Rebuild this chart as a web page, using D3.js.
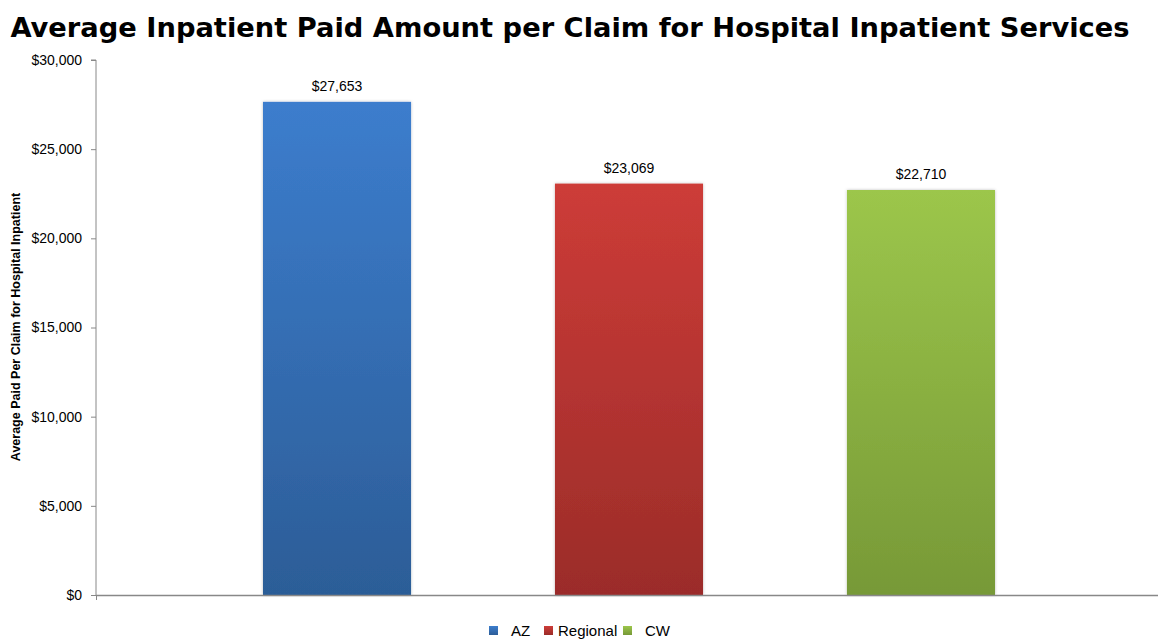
<!DOCTYPE html>
<html>
<head>
<meta charset="utf-8">
<script src="https://cdn.jsdelivr.net/npm/d3@7"></script>
<style>
  body { margin: 0; background: #fff; }
  svg { display: block; }
</style>
</head>
<body>
<div id="chart"></div>
<script>
// chart data
var series = ["AZ", "Regional", "CW"];
var values = [27653, 23069, 22710];
var yTicks = [0, 5000, 10000, 15000, 20000, 25000, 30000];
var topColors = ["#3c7dcd", "#cd3c38", "#9cc64b"];
var bottomColors = ["#2c5d97", "#9b2c29", "#779937"];

var width = 1159, height = 639;
var plotLeft = 96, plotRight = 1158, plotTop = 60, plotBottom = 595;

var svg = d3.select("#chart").append("svg")
	.attr("width", width).attr("height", height);

var defs = svg.append("defs");
series.forEach(function(s, i) {
	var grad = defs.append("linearGradient").attr("id", "grad" + i)
		.attr("x1", 0).attr("y1", 0).attr("x2", 0).attr("y2", 1);
	grad.append("stop").attr("offset", "0%").attr("stop-color", topColors[i]);
	grad.append("stop").attr("offset", "100%").attr("stop-color", bottomColors[i]);
});
var shadow = defs.append("filter").attr("id", "shadow")
	.attr("x", "-10%").attr("y", "-10%").attr("width", "120%").attr("height", "120%");
shadow.append("feDropShadow").attr("dx", 0).attr("dy", 0)
	.attr("stdDeviation", 1.5).attr("flood-color", "#000").attr("flood-opacity", 0.25);

// title
svg.append("text")
	.attr("x", 570).attr("y", 37)
	.attr("text-anchor", "middle")
	.attr("font-family", "DejaVu Sans, Verdana, sans-serif")
	.attr("font-weight", "bold")
	.attr("font-size", "27.3px")
	.attr("fill", "#000")
	.text("Average Inpatient Paid Amount per Claim for Hospital Inpatient Services");

var y = d3.scaleLinear().domain([0, 30000]).range([plotBottom, plotTop]);
var x = d3.scaleBand().domain(series).range([263, 995])
	.paddingInner(0.493).paddingOuter(0);

// y axis
var yAxis = d3.axisLeft(y).tickValues(yTicks).tickSize(5).tickPadding(9)
	.tickFormat(function(d) { return "$" + d3.format(",")(d); });
var gy = svg.append("g").attr("transform", "translate(" + plotLeft + ",0)").call(yAxis);
gy.select(".domain").attr("stroke", "#888").attr("d", "M-5," + plotTop + "H0V" + plotBottom);
gy.selectAll(".tick line").attr("stroke", "#888");
gy.selectAll(".tick text")
	.attr("font-family", "Liberation Sans, Arial, sans-serif")
	.attr("font-size", "14px").attr("fill", "#000");

// bars
svg.selectAll("rect.bar").data(values).enter().append("rect")
	.attr("class", "bar")
	.attr("x", function(d, i) { return x(series[i]); })
	.attr("y", function(d) { return y(d); })
	.attr("width", x.bandwidth())
	.attr("height", function(d) { return plotBottom - y(d); })
	.attr("fill", function(d, i) { return "url(#grad" + i + ")"; })
	.attr("filter", "url(#shadow)");

// x axis line (drawn over bars)
svg.append("line")
	.attr("x1", plotLeft).attr("x2", plotRight)
	.attr("y1", plotBottom + 0.5).attr("y2", plotBottom + 0.5)
	.attr("stroke", "#888").attr("stroke-width", 1.5);
svg.append("line")
	.attr("x1", plotLeft + 0.5).attr("x2", plotLeft + 0.5)
	.attr("y1", plotBottom).attr("y2", plotBottom + 5)
	.attr("stroke", "#888");

// value labels
svg.selectAll("text.val").data(values).enter().append("text")
	.attr("class", "val")
	.attr("x", function(d, i) { return x(series[i]) + x.bandwidth() / 2; })
	.attr("y", function(d) { return y(d) - 11; })
	.attr("text-anchor", "middle")
	.attr("font-family", "Liberation Sans, Arial, sans-serif")
	.attr("font-size", "14px")
	.text(function(d) { return "$" + d3.format(",")(d); });

// y axis title
svg.append("text")
	.attr("transform", "translate(20,327) rotate(-90)")
	.attr("text-anchor", "middle")
	.attr("font-family", "Liberation Sans, Arial, sans-serif")
	.attr("font-weight", "bold")
	.attr("font-size", "12.5px")
	.text("Average Paid Per Claim for Hospital Inpatient");

// legend
var legendX = [489, 544, 623];
var lg = svg.selectAll("g.leg").data(series).enter().append("g")
	.attr("class", "leg")
	.attr("transform", function(d, i) { return "translate(" + legendX[i] + ",626)"; });
lg.append("rect").attr("width", 9).attr("height", 9)
	.attr("fill", function(d, i) { return "url(#grad" + i + ")"; });
lg.append("text").attr("x", function(d, i) { return i == 1 ? 14 : 22; }).attr("y", 10)
	.attr("font-family", "Liberation Sans, Arial, sans-serif")
	.attr("font-size", "15px")
	.text(function(d) { return d; });
</script>
</body>
</html>
